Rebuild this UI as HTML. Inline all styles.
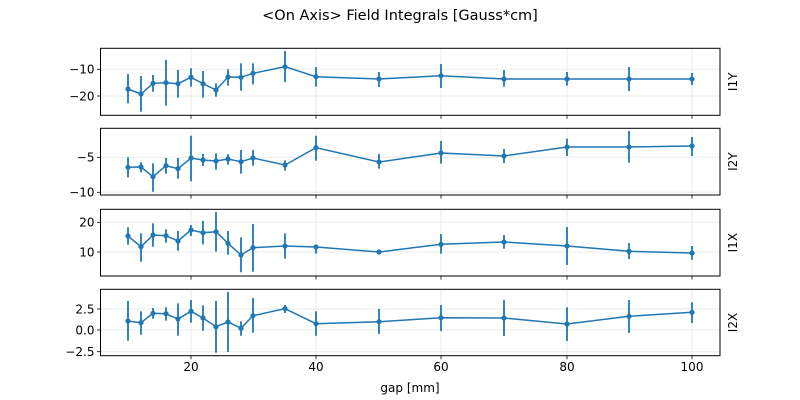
<!DOCTYPE html>
<html><head><meta charset="utf-8"><style>
html,body{margin:0;padding:0;background:#fff}
svg{display:block;font-family:"DejaVu Sans","Liberation Sans",sans-serif}
</style></head><body>
<svg id="s" width="800" height="400" xmlns="http://www.w3.org/2000/svg">
<text x="400" y="20" text-anchor="middle" font-size="14.5">&lt;On Axis&gt; Field Integrals [Gauss*cm]</text>
<text x="410" y="392" text-anchor="middle" font-size="12">gap [mm]</text>
</svg>
<script>
const NS="http://www.w3.org/2000/svg",s=document.getElementById('s');
function el(t,a,txt){const e=document.createElementNS(NS,t);for(const k in a)e.setAttribute(k,a[k]);if(txt!=null)e.textContent=txt;s.appendChild(e);return e;}
const xs=[128,141,153,166,178,191,203,216,228,241,253,285,316,379,441,504,567,629,692];
const panels=[
 {top:48.3,bot:115.3,name:"I1Y",ticks:[[69.3,"−10"],[96,"−20"]],
  p:[89,94,83.3,82.7,83.7,77.3,83.7,90,77,77.3,73.3,66.7,76.7,79,75.7,79,79,79,79],
  e:[[74,103.3],[76,111.7],[75,91.7],[60,105.7],[70,97.7],[68.3,86.7],[71,97.7],[83.3,96.7],[69.3,85.7],[63.3,90.7],[63.3,84.3],[51,82],[67,86.7],[72,87],[64,88],[70,86.7],[72,85.7],[67,91],[73,85]]},
 {top:128.3,bot:195,name:"I2Y",ticks:[[157.3,"−5"],[192.3,"−10"]],
  p:[167.3,167,176.7,165.7,168.7,158,160,161,159,161.7,158,165,147.7,162,153,156,147,147,146],
  e:[[157.3,177.3],[162.3,172.3],[163.3,191.7],[158,173.7],[158,178.7],[135.7,181.3],[154,166],[153.3,169.7],[154.3,164.7],[150,173.7],[150,165.7],[160.3,170.7],[135.7,160.7],[154,168.7],[141,163.7],[149,163],[138.7,156],[131,162.7],[137,156]]},
 {top:209.3,bot:276,name:"I1X",ticks:[[222.3,"20"],[252,"10"]],
  p:[236,246.7,235,235.7,241,230,232.7,231.7,243.3,255,247.7,246,247,252,244.3,242,246,251.3,253],
  e:[[227.3,244.7],[233.3,261.7],[223.3,246.7],[229.3,242.7],[231,250.7],[225,236],[221,244.3],[212,251.7],[231,254.7],[237.3,272.3],[224,271.7],[233.3,258.7],[244.7,253.7],[250,254],[234,253.7],[235,248.7],[227,265],[243,259],[246,259.7]]},
 {top:289.3,bot:355.7,name:"I2X",ticks:[[309,"2.5"],[330,"0.0"],[351.7,"−2.5"]],
  p:[321,322.7,313.3,313.7,319,311.3,318,326.7,322,328.3,315.7,308.7,323.7,321.7,317.7,318,324,316.3,312.3],
  e:[[301,340.7],[311.3,334.7],[308,318.7],[307.3,320.7],[303.3,335.7],[300,322.7],[305.3,330.7],[301,352.7],[292,352],[321.3,335.7],[298,332.7],[305,313],[311.3,335.7],[309,334],[305,331],[300,336],[307.3,341],[300,333],[302.3,323]]}
];
const gx=[191,316,441,567,692],L=100.5,R=720,C="#1f77b4";
panels.forEach((P,i)=>{
 gx.forEach(x=>el('line',{x1:x,x2:x,y1:P.top,y2:P.bot,stroke:"#ebebeb","stroke-width":1}));
 P.ticks.forEach(([y,t])=>{
  el('line',{x1:L,x2:R,y1:y,y2:y,stroke:"#ebebeb","stroke-width":1});
  el('line',{x1:L-3.5,x2:L,y1:y,y2:y,stroke:"#000","stroke-width":0.8});
  el('text',{x:L-6,y:y+4.3,"text-anchor":"end","font-size":12},t);
 });
 gx.forEach(x=>el('line',{x1:x,x2:x,y1:P.bot,y2:P.bot+3.5,stroke:"#000","stroke-width":0.8}));
 P.e.forEach((e,j)=>el('line',{x1:xs[j],x2:xs[j],y1:e[0],y2:e[1],stroke:C,"stroke-width":1.8}));
 el('polyline',{points:P.p.map((y,j)=>xs[j]+","+y).join(" "),fill:"none",stroke:C,"stroke-width":1.5});
 P.p.forEach((y,j)=>el('circle',{cx:xs[j],cy:y,r:2.6,fill:C}));
 el('rect',{x:L,y:P.top,width:R-L,height:P.bot-P.top,fill:"none",stroke:"#000","stroke-width":1});
 const cy=(P.top+P.bot)/2;
 el('text',{x:733,y:cy,"text-anchor":"middle","font-size":12,transform:`rotate(-90 733 ${cy})`,"dominant-baseline":"central"},P.name);
});
["20","40","60","80","100"].forEach((t,k)=>el('text',{x:gx[k],y:371,"text-anchor":"middle","font-size":12},t));
</script>
</body></html>
